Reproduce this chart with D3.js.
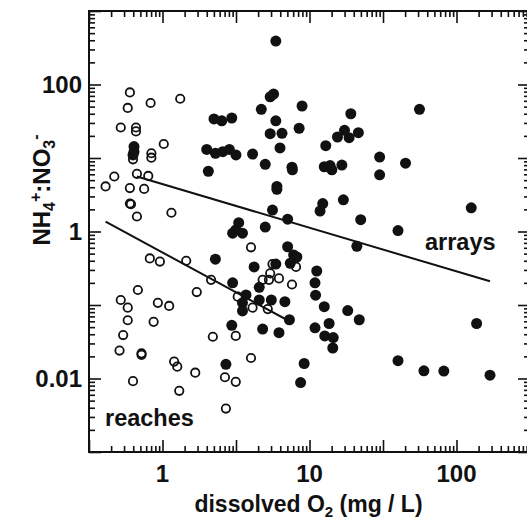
<!DOCTYPE html>
<html>
<head>
<meta charset="utf-8">
<script src="https://cdn.jsdelivr.net/npm/d3@7"></script>
<style>
  body { margin: 0; background: #fff; }
  svg { display: block; }
  text { font-family: "Liberation Sans", Arial, sans-serif; font-weight: bold; fill: #111; }
</style>
</head>
<body>
<script>
// Global variable
const W = 527;
const H = 520;
const margin = {top: 11, left: 89};
const w = 441;
const h = 441;

// reaches (open circles)
const reachesO2 = [0.60, 0.58, 0.83, 1.32, 0.52, 0.66, 0.66, 1.02, 0.84, 0.84,
                   0.63, 0.47, 0.41, 0.67, 0.80, 0.60, 0.75, 0.60, 0.61, 0.67,
                   1.15, 4.0, 0.82, 0.96, 1.45, 5.6, 8.1, 5.4, 4.8, 5.3,
                   6.2, 7.6, 2.14, 0.68, 1.71, 3.25, 0.52, 0.58, 0.93, 1.11,
                   4.1, 5.2, 0.58, 0.87, 0.54, 2.2, 3.15, 0.51, 0.72, 0.72,
                   1.20, 1.26, 4.0, 1.67, 2.66, 3.15, 0.63, 1.30, 2.70];
const reachesRatio = [78, 48, 56, 64, 26, 26, 23, 15.5, 11.6, 10.1,
                      9.6, 5.6, 4.1, 6.1, 5.7, 3.9, 3.8, 2.4, 2.35, 1.6,
                      1.8, 0.61, 0.43, 0.39, 0.40, 0.36, 0.33, 0.27, 0.22, 0.22,
                      0.23, 0.19, 0.22, 0.16, 0.15, 0.13, 0.117, 0.092, 0.107, 0.097,
                      0.092, 0.088, 0.062, 0.059, 0.039, 0.037, 0.038, 0.024, 0.022, 0.021,
                      0.017, 0.0145, 0.019, 0.012, 0.0104, 0.0090, 0.0092, 0.0068, 0.0039];

// arrays (filled circles)
const arraysO2 = [5.9, 5.4, 5.7, 4.7, 8.9, 2.24, 2.53, 2.96, 5.9, 5.4,
                  6.5, 8.5, 2.0, 2.29, 2.57, 2.85, 3.16, 4.1, 6.3, 5.0,
                  7.6, 7.65, 2.05, 6.0, 6.0, 5.6, 7.1, 3.3, 3.0, 3.5,
                  3.15, 5.0, 7.1, 7.8, 8.2, 2.29, 0.64, 0.64, 0.63, 19.1,
                  56, 17.3, 15.5, 18.6, 21.5, 12.9, 30, 45, 12.6, 13.8,
                  14.2, 16.6, 30, 12.3, 11.8, 17.0, 126, 22.3, 40, 21,
                  11.2, 10.9, 11.0, 12.6, 18.2, 21.8, 13.6, 10.9, 12.7, 14.5,
                  14.4, 137, 9.2, 8.7, 40, 60, 82, 169, 4.2, 5.9,
                  7.4, 3.0, 4.55, 3.7, 3.5, 3.5, 4.55, 5.5, 6.8, 7.3,
                  2.96, 4.8, 6.2, 2.7];
const arraysRatio = [390, 68, 74, 46, 51, 34, 32, 35, 32, 21.4,
                     21.7, 25.4, 13.1, 11.6, 12.2, 13.1, 11.0, 11.3, 13.7, 8.2,
                     7.5, 6.9, 6.6, 4.1, 3.75, 1.96, 1.47, 1.32, 0.95, 0.95,
                     1.05, 1.15, 0.62, 0.48, 0.45, 0.42, 14.3, 12.2, 11.0, 40,
                     46, 23.8, 19.3, 18.9, 22.1, 14.7, 10.3, 8.5, 7.6, 7.9,
                     6.9, 8.0, 5.9, 2.4, 1.9, 2.7, 2.1, 1.45, 1.03, 0.63,
                     0.29, 0.20, 0.136, 0.095, 0.084, 0.063, 0.056, 0.049, 0.038, 0.036,
                     0.026, 0.056, 0.016, 0.0088, 0.0175, 0.0127, 0.0126, 0.0111, 0.33, 0.36,
                     0.37, 0.20, 0.174, 0.137, 0.107, 0.083, 0.117, 0.117, 0.111, 0.063,
                     0.053, 0.047, 0.042, 0.0156];

// fitted lines (end points)
const arraysFitO2 = [0.67, 169];
const arraysFitRatio = [5.6, 0.21];
const reachesFitO2 = [0.41, 7.0];
const reachesFitRatio = [1.36, 0.063];

// tick labels
const xLabelValues = [1, 10, 100];
const xLabelText = ["1", "10", "100"];
const yLabelValues = [100, 1, 0.01];
const yLabelText = ["100", "1", "0.01"];

const reaches = reachesO2.map((d, i) => ({o2: d, ratio: reachesRatio[i]}));
const arrays = arraysO2.map((d, i) => ({o2: d, ratio: arraysRatio[i]}));

//Create SVG element
const svg = d3.select("body")
            .append("svg")
                .attr("width", W)
                .attr("height", H);

const g = svg.append("g")
    .attr("transform", "translate(" + margin.left + "," + margin.top + ")");

const x = d3.scaleLog()
    .domain([Math.pow(10, -0.5), Math.pow(10, 2.5)])
    .range([0, w]);

const y = d3.scaleLog()
    .domain([0.001, 1000])
    .range([h, 0]);

// x ticks: a major every half decade, log-style minors inside each half decade
const xMajor = d3.range(-1, 6).map(k => Math.pow(10, k / 2));
const xMinor = [];
d3.range(-1, 5).forEach(k => {
    d3.range(2, 10).forEach(m => xMinor.push(Math.pow(10, k / 2 + Math.log10(m) / 2)));
});

// y ticks: a major every decade
const yMajor = d3.range(-3, 4).map(k => Math.pow(10, k));
const yMinor = [];
d3.range(-3, 3).forEach(k => {
    d3.range(2, 10).forEach(m => yMinor.push(m * Math.pow(10, k)));
});

const axes = [
    [() => d3.axisBottom(x), xMajor, xMinor, "translate(0," + h + ")"],
    [() => d3.axisTop(x), xMajor, xMinor, "translate(0,0)"],
    [() => d3.axisLeft(y), yMajor, yMinor, "translate(0,0)"],
    [() => d3.axisRight(y), yMajor, yMinor, "translate(" + w + ",0)"]
];

axes.forEach(([make, major, minor, tr]) => {
    g.append("g").attr("transform", tr)
        .call(make().tickValues(minor).tickSize(-6).tickFormat(""));
    g.append("g").attr("transform", tr)
        .call(make().tickValues(major).tickSize(-12).tickFormat(""));
});

g.selectAll(".domain").remove();
g.selectAll(".tick line")
    .attr("stroke", "#111")
    .attr("stroke-width", 1.6);

// frame
g.append("rect")
    .attr("width", w)
    .attr("height", h)
    .attr("fill", "none")
    .attr("stroke", "#111")
    .attr("stroke-width", 2);

// tick labels
g.selectAll(".xlab")
    .data(xLabelValues)
    .enter()
    .append("text")
    .attr("x", d => x(d))
    .attr("y", h + 30)
    .attr("text-anchor", "middle")
    .style("font-size", "24px")
    .text((d, i) => xLabelText[i]);

g.selectAll(".ylab")
    .data(yLabelValues)
    .enter()
    .append("text")
    .attr("x", -7)
    .attr("y", d => y(d) + 8.5)
    .attr("text-anchor", "end")
    .style("font-size", "24px")
    .text((d, i) => yLabelText[i]);

// fitted lines
const line = d3.line()
    .x(d => x(d[0]))
    .y(d => y(d[1]));

g.append("path")
    .datum(arraysFitO2.map((d, i) => [d, arraysFitRatio[i]]))
    .attr("d", line)
    .attr("fill", "none")
    .attr("stroke", "#111")
    .attr("stroke-width", 2);

g.append("path")
    .datum(reachesFitO2.map((d, i) => [d, reachesFitRatio[i]]))
    .attr("d", line)
    .attr("fill", "none")
    .attr("stroke", "#111")
    .attr("stroke-width", 2);

// points
g.selectAll(".reach")
    .data(reaches)
    .enter()
    .append("circle")
    .attr("cx", d => x(d.o2))
    .attr("cy", d => y(d.ratio))
    .attr("r", 4.2)
    .attr("fill", "none")
    .attr("stroke", "#111")
    .attr("stroke-width", 1.8);

g.selectAll(".array")
    .data(arrays)
    .enter()
    .append("circle")
    .attr("cx", d => x(d.o2))
    .attr("cy", d => y(d.ratio))
    .attr("r", 5.5)
    .attr("fill", "#111");

// in-plot labels
g.append("text")
    .attr("x", 16)
    .attr("y", 415)
    .style("font-size", "23.5px")
    .text("reaches");

g.append("text")
    .attr("x", 336)
    .attr("y", 239)
    .style("font-size", "23.5px")
    .text("arrays");

// x title
const xt = svg.append("text")
    .attr("x", margin.left + w / 2 - 1)
    .attr("y", 512)
    .attr("text-anchor", "middle")
    .style("font-size", "23px");
xt.append("tspan").text("dissolved O");
xt.append("tspan").attr("dy", 5).style("font-size", "15px").text("2");
xt.append("tspan").attr("dy", -5).text(" (mg / L)");

// y title
const yt = svg.append("text")
    .attr("transform", "translate(50,190) rotate(-90)")
    .attr("text-anchor", "middle")
    .style("font-size", "24px");
yt.append("tspan").text("NH");
yt.append("tspan").attr("dy", 5).style("font-size", "16px").text("4");
yt.append("tspan").attr("dy", -14).style("font-size", "16px").text("+");
yt.append("tspan").attr("dy", 9).text(":NO");
yt.append("tspan").attr("dy", 5).style("font-size", "16px").text("3");
yt.append("tspan").attr("dy", -14).style("font-size", "16px").text("-");
</script>
</body>
</html>
